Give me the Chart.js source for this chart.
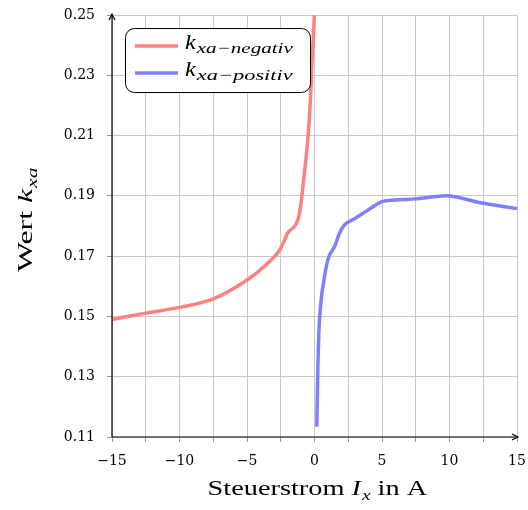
<!DOCTYPE html>
<html>
<head>
<meta charset="utf-8">
<script src="https://cdn.jsdelivr.net/npm/chart.js@4.4.1/dist/chart.umd.min.js"></script>
<style>
  html, body { margin: 0; padding: 0; background: #fff; }
  #wrap { width: 528px; height: 510px; }
</style>
</head>
<body>
<div id="wrap"><canvas id="kxaChart" width="528" height="510"></canvas></div>
<script>
// =====================
// Daten
// =====================
const negX = [-15, -12.5, -10, -7.5, -5, -3.75, -2.5, -2.2, -2.0, -1.5, -1.2, -1.0, -0.75, -0.5, -0.3, -0.2, -0.07, 0.06];
const negY = [0.149, 0.1511, 0.153, 0.1558, 0.1621, 0.1665, 0.1726, 0.1755, 0.1776, 0.1798, 0.1825, 0.1875, 0.1975, 0.2085, 0.222, 0.233, 0.244, 0.256];

const posX = [0.17, 0.25, 0.32, 0.44, 0.74, 1.0, 1.5, 1.85, 2.2, 3.0, 4.0, 5.0, 6.0, 7.5, 9.75, 12.3, 15];
const posY = [0.1134, 0.1333, 0.1444, 0.1532, 0.1632, 0.169, 0.1733, 0.1776, 0.1803, 0.1825, 0.1854, 0.1881, 0.1886, 0.189, 0.19, 0.1877, 0.1858];

const xTicks = [-15, -12.5, -10, -7.5, -5, -2.5, 0, 2.5, 5, 7.5, 10, 12.5, 15];
const xLabels = [-15, -10, -5, 0, 5, 10, 15];
const yTicks = [0.11, 0.13, 0.15, 0.17, 0.19, 0.21, 0.23, 0.25];

// Legende: Hauptzeichen + Index
const legendParts = [
  { main: "k", sub: "xa\u2212negativ" },
  { main: "k", sub: "xa\u2212positiv" },
];

const SERIF = "'Liberation Serif', 'DejaVu Serif', serif";
const TICKFONT = "'DejaVu Serif', serif";
const RED = "#ff8080";
const BLUE = "#8080ff";

function toPoints(xs, ys) {
  return xs.map((x, i) => ({ x: x, y: ys[i] }));
}

// Text horizontal gestreckt zeichnen (CM ist breiter als Times)
function drawText(ctx, text, x, y, font, sx) {
  ctx.save();
  ctx.font = font;
  ctx.translate(x, y);
  ctx.scale(sx, 1);
  ctx.fillText(text, 0, 0);
  const w = ctx.measureText(text).width * sx;
  ctx.restore();
  return w;
}

function textWidth(ctx, text, font) {
  ctx.save();
  ctx.font = font;
  const w = ctx.measureText(text).width;
  ctx.restore();
  return w;
}

// =====================
// Plugin: Achsen, Legende, Achsentitel
// =====================
const extras = {
  id: "extras",
  afterDraw(chart) {
    const ctx = chart.ctx;
    const a = chart.chartArea;
    ctx.save();

    // Achsen mit Pfeil
    ctx.strokeStyle = "#000";
    ctx.fillStyle = "#000";
    ctx.lineWidth = 1.2;
    ctx.beginPath();
    ctx.moveTo(a.left, a.bottom);
    ctx.lineTo(a.left, a.top + 1);
    ctx.moveTo(a.left, a.bottom);
    ctx.lineTo(a.right - 1, a.bottom);
    ctx.stroke();
    ctx.beginPath();
    ctx.moveTo(a.left - 3, a.top + 5);
    ctx.lineTo(a.left, a.top - 1);
    ctx.lineTo(a.left + 3, a.top + 5);
    ctx.stroke();
    ctx.beginPath();
    ctx.moveTo(a.right - 5, a.bottom - 3);
    ctx.lineTo(a.right + 1, a.bottom);
    ctx.lineTo(a.right - 5, a.bottom + 3);
    ctx.stroke();

    // Legende
    const bx = 125, by = 28, bw = 185, bh = 64;
    ctx.fillStyle = "#fff";
    ctx.strokeStyle = "#000";
    ctx.lineWidth = 1;
    ctx.beginPath();
    ctx.roundRect(bx + 0.5, by + 0.5, bw, bh, 9);
    ctx.fill();
    ctx.stroke();
    ctx.textAlign = "left";
    ctx.textBaseline = "alphabetic";
    chart.data.datasets.forEach((ds, i) => {
      const ly = by + 18 + i * 27;
      ctx.strokeStyle = ds.borderColor;
      ctx.lineWidth = 3.5;
      ctx.beginPath();
      ctx.moveTo(bx + 10, ly);
      ctx.lineTo(bx + 53, ly);
      ctx.stroke();
      ctx.fillStyle = "#000";
      const kFont = "italic 21px " + SERIF;
      const sFont = "italic 15px " + SERIF;
      const kw = drawText(ctx, legendParts[i].main, bx + 60, ly + 3, kFont, 1.15);
      const sw = textWidth(ctx, legendParts[i].sub, sFont);
      drawText(ctx, legendParts[i].sub, bx + 61 + kw, ly + 7, sFont, 96 / sw);
    });

    // x-Achsentitel
    ctx.fillStyle = "#000";
    const f1 = "22px " + SERIF;
    const fI = "italic 22px " + SERIF;
    const fs = "italic 15px " + SERIF;
    const t1 = "Steuerstrom ";
    const t2 = " in A";
    const nat = textWidth(ctx, t1, f1) + textWidth(ctx, "I", fI) + 1 + textWidth(ctx, "x", fs) + textWidth(ctx, t2, f1);
    const sx = 220 / nat;
    let px = (a.left + a.right) / 2 + 3 - 110;
    const baseY = 495;
    px += drawText(ctx, t1, px, baseY, f1, sx);
    px += drawText(ctx, "I", px, baseY, fI, sx) + 1;
    px += drawText(ctx, "x", px, baseY + 5, fs, sx);
    drawText(ctx, t2, px, baseY, f1, sx);

    // y-Achsentitel
    ctx.translate(32, 220);
    ctx.rotate(-Math.PI / 2);
    const u1 = "Wert ";
    const natY = textWidth(ctx, u1, f1) + textWidth(ctx, "k", fI) + 1 + textWidth(ctx, "xa", fs);
    const sy = 105 / natY;
    let ux = -52;
    ux += drawText(ctx, u1, ux, 0, f1, sy);
    ux += drawText(ctx, "k", ux, 0, fI, sy) + 1;
    drawText(ctx, "xa", ux, 5, fs, sy);

    ctx.restore();
  },
};

// =====================
// Diagramm
// =====================
const ctx = document.getElementById("kxaChart").getContext("2d");

new Chart(ctx, {
  type: "line",
  data: {
    datasets: [
      {
        label: "k_xa-negativ",
        data: toPoints(negX, negY),
        borderColor: RED,
        borderWidth: 3.5,
        pointRadius: 0,
        cubicInterpolationMode: "monotone",
        fill: false,
      },
      {
        label: "k_xa-positiv",
        data: toPoints(posX, posY),
        borderColor: BLUE,
        borderWidth: 3.5,
        pointRadius: 0,
        cubicInterpolationMode: "monotone",
        fill: false,
      },
    ],
  },
  options: {
    responsive: false,
    animation: false,
    layout: { padding: { top: 15, right: 11, left: 0, bottom: 0 } },
    plugins: {
      legend: { display: false },
      tooltip: { enabled: false },
    },
    scales: {
      x: {
        type: "linear",
        min: -15,
        max: 15,
        afterFit: (s) => {
          s.height = 73;
          s.paddingLeft = 0;
          s.paddingRight = 0;
        },
        afterBuildTicks: (s) => { s.ticks = xTicks.map((v) => ({ value: v })); },
        grid: { color: "#c8c8c8", lineWidth: 1, tickLength: 5, tickColor: "#999" },
        border: { display: false },
        ticks: {
          autoSkip: false,
          maxRotation: 0,
          padding: 11,
          color: "#000",
          font: { family: TICKFONT, size: 14 },
          callback: (v) => (xLabels.includes(v) ? String(v).replace("-", "\u2212") : ""),
        },
      },
      y: {
        min: 0.11,
        max: 0.25,
        afterFit: (s) => {
          s.width = 112;
          s.paddingTop = 0;
          s.paddingBottom = 0;
        },
        afterBuildTicks: (s) => { s.ticks = yTicks.map((v) => ({ value: v })); },
        grid: { color: "#c8c8c8", lineWidth: 1, tickLength: 5, tickColor: "#999" },
        border: { display: false },
        ticks: {
          autoSkip: false,
          padding: 12,
          color: "#000",
          font: { family: TICKFONT, size: 14 },
          callback: (v) => Number(v).toFixed(2),
        },
      },
    },
  },
  plugins: [extras],
});
</script>
</body>
</html>
